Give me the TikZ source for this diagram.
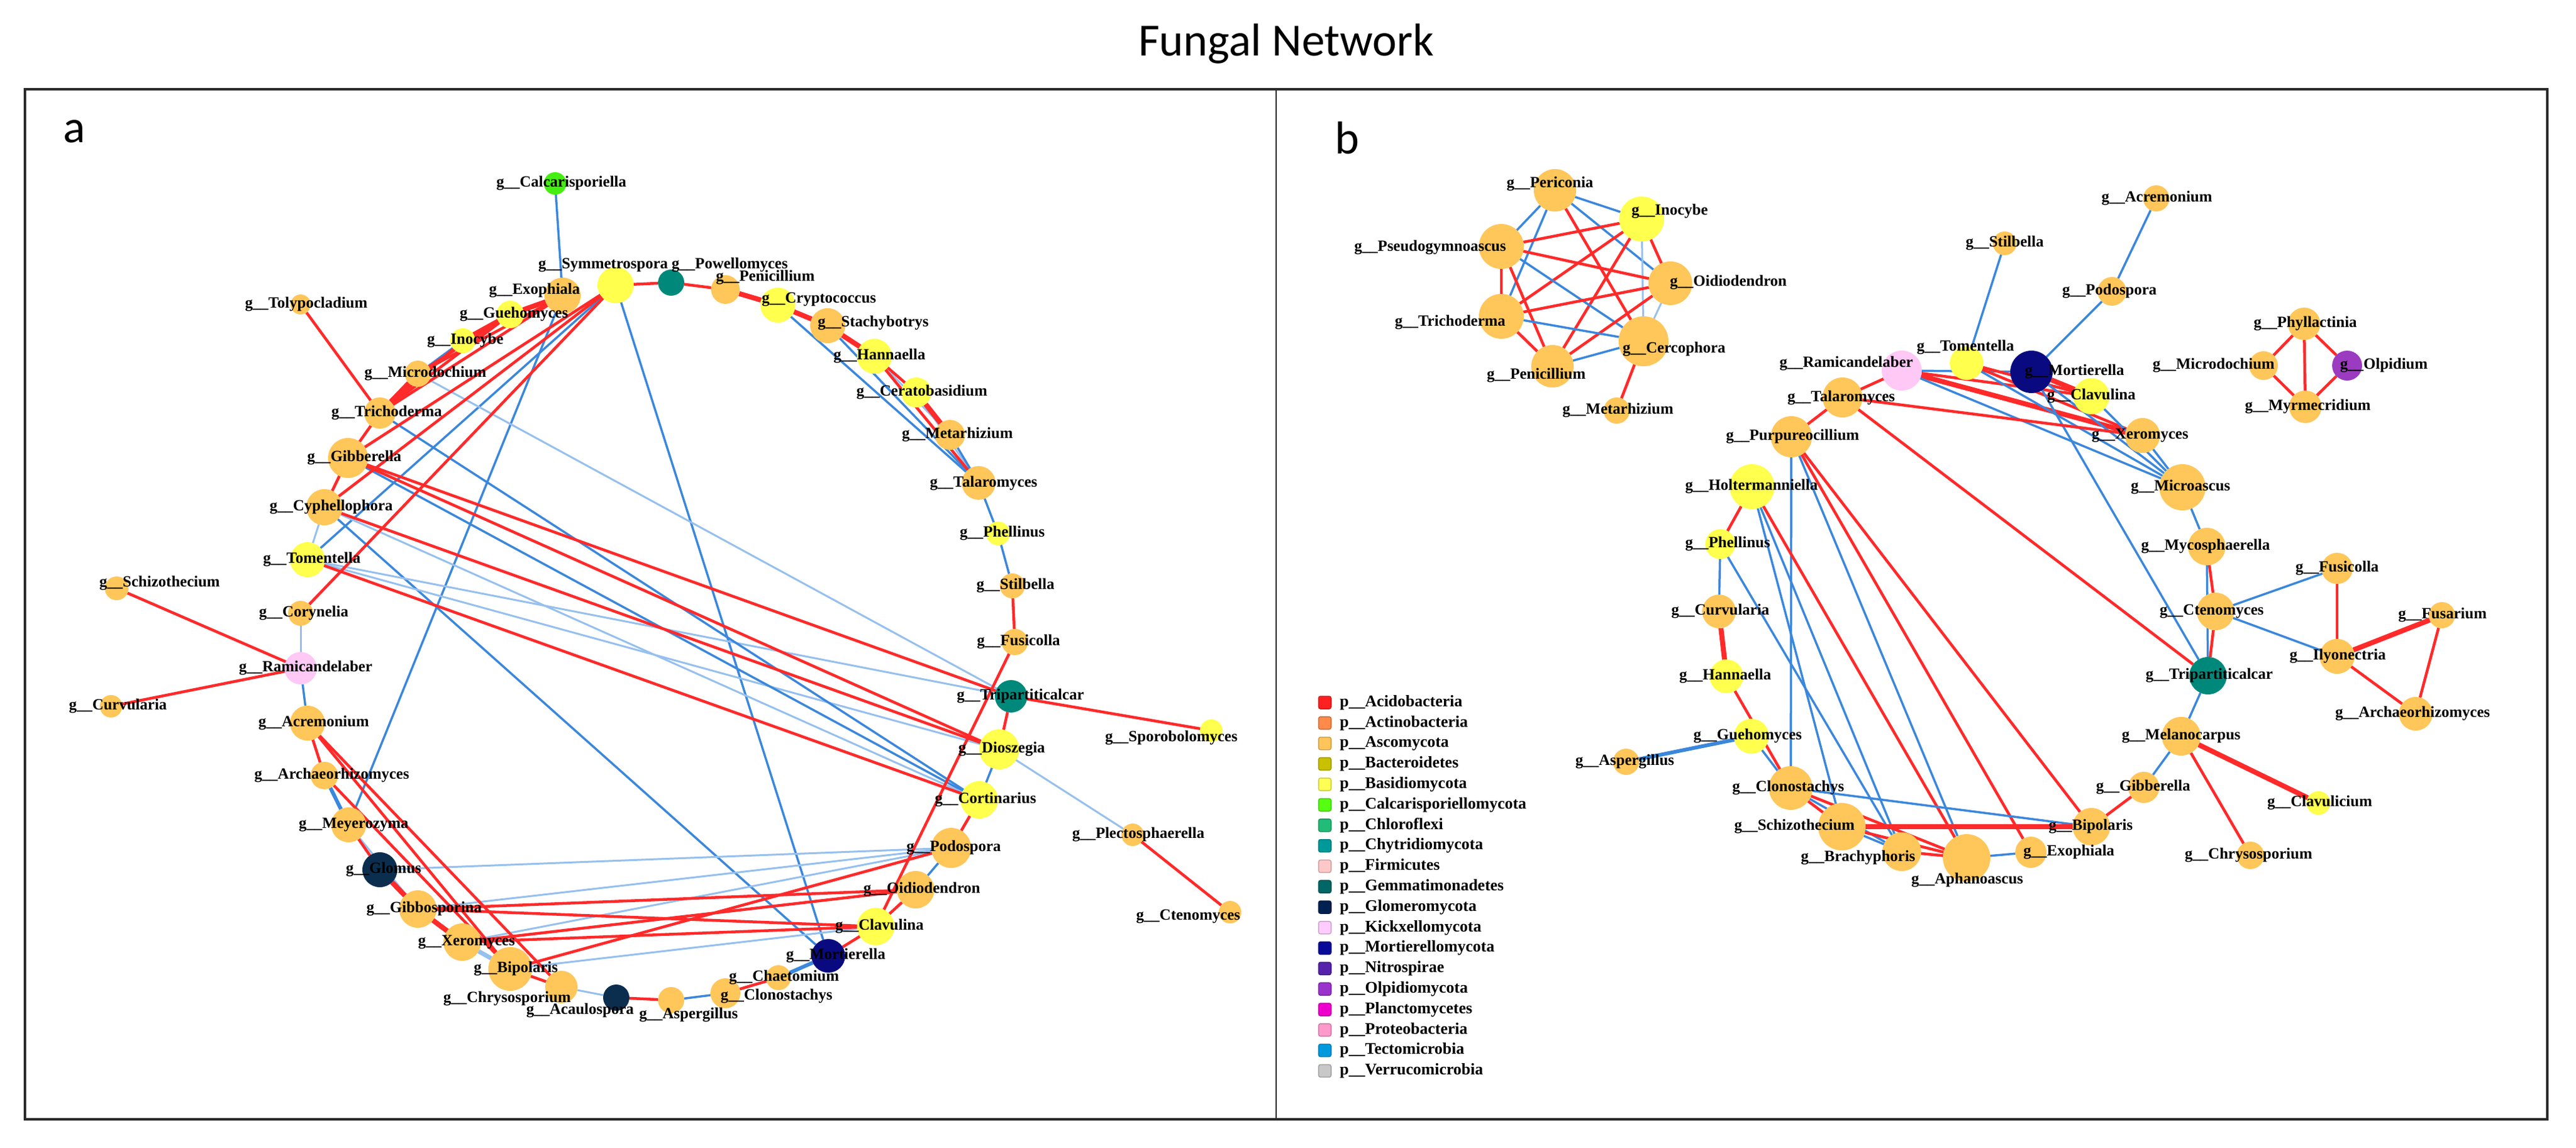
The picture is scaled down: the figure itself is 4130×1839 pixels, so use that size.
\documentclass[tikz,border=0pt]{standalone}
\usepackage{fontspec}
\setmainfont{Liberation Serif}
\newfontfamily\carl{Carlito}
\usetikzlibrary{calc}
\pgfdeclarelayer{bg}\pgfdeclarelayer{edges}\pgfdeclarelayer{labels}
\pgfsetlayers{bg,edges,main,labels}
\definecolor{asc}{HTML}{FFC65A}
\definecolor{bas}{HTML}{FFFF4D}
\definecolor{chy}{HTML}{00897B}
\definecolor{glo}{HTML}{0B2E4F}
\definecolor{mor}{HTML}{0A0A80}
\definecolor{kic}{HTML}{FFC8F5}
\definecolor{cal}{HTML}{44EE11}
\definecolor{olp}{HTML}{9B3BC0}
\definecolor{posc}{HTML}{FF2A2A}
\definecolor{negc}{HTML}{3B87DC}
\definecolor{neglc}{HTML}{96C0EE}
\definecolor{framec}{HTML}{2A2A2A}
\tikzset{
  fnode/.style={circle,draw=none,inner sep=0pt,outer sep=0pt},
  flabel/.style={inner sep=0pt,font=\fontsize{25}{25}\selectfont\bfseries},
  epos/.style={draw=posc,line width=4.5pt},
  eposk/.style={draw=posc,line width=8pt},
  eneg/.style={draw=negc,line width=3.5pt},
  enegk/.style={draw=negc,line width=6pt},
  enegl/.style={draw=neglc,line width=3pt},
  eneglk/.style={draw=neglc,line width=7pt},
  legsq/.style={inner sep=0pt,minimum size=20pt,rounded corners=3pt,line width=1.5pt},
  legtxt/.style={inner sep=0pt,anchor=west,font=\fontsize{26}{26}\selectfont\bfseries},
}
\newcommand\fungnode[8]{%
  \node[fnode,fill=#5,minimum size={2*#4pt}] (#1) at (#2,#3) {};%
  \begin{pgfonlayer}{labels}\node[flabel] (#1-l) at (#7,#8) {g\_\_#6};\end{pgfonlayer}}
\newcommand\lnk[3]{\draw[#1] (#2) -- (#3);}
\begin{document}
\begin{tikzpicture}[x=1pt,y=-1pt]
\useasboundingbox (0,0) rectangle (4130,1839);
\begin{pgfonlayer}{bg}\fill[white] (0,0) rectangle (4130,1839);\end{pgfonlayer}
% title and frame
\node[font=\carl\fontsize{74}{74}\selectfont,inner sep=0pt] (title) at (2062,70) {Fungal Network};
\draw[framec,line width=4pt] (40,143) rectangle (4084,1794);
\draw[framec,line width=2.5pt] (2046,143) -- (2046,1794);
\node[font=\carl\fontsize{74}{74}\selectfont,inner sep=0pt,anchor=base] (pa) at (119,228) {a};
\node[font=\carl\fontsize{74}{74}\selectfont,inner sep=0pt,anchor=base] (pb) at (2160,246) {b};
% ---------------- panel a nodes
\fungnode{calc}{890}{294}{18}{cal}{Calcarisporiella}{900}{294}
\fungnode{symm}{987}{457}{29}{bas}{Symmetrospora}{967}{425}
\fungnode{powel}{1076}{453}{21}{chy}{Powellomyces}{1170}{425}
\fungnode{penA}{1163}{464}{23}{asc}{Penicillium}{1227}{445}
\fungnode{crypt}{1247}{489}{28}{bas}{Cryptococcus}{1313}{480}
\fungnode{stach}{1327}{522}{28}{asc}{Stachybotrys}{1400}{518}
\fungnode{hannA}{1402}{571}{28}{bas}{Hannaella}{1410}{571}
\fungnode{cerat}{1469}{629}{24}{bas}{Ceratobasidium}{1478}{629}
\fungnode{metA}{1523}{697}{24}{asc}{Metarhizium}{1535}{697}
\fungnode{talA}{1569}{774}{27}{asc}{Talaromyces}{1577}{775}
\fungnode{phelA}{1600}{855}{19}{bas}{Phellinus}{1607}{855}
\fungnode{stilA}{1623}{939}{20}{asc}{Stilbella}{1628}{939}
\fungnode{fusA}{1627}{1029}{21}{asc}{Fusicolla}{1633}{1029}
\fungnode{tripA}{1621}{1116}{26}{chy}{Tripartiticalcar}{1636}{1116}
\fungnode{sporo}{1942}{1171}{18}{bas}{Sporobolomyces}{1878}{1183}
\fungnode{dios}{1602}{1201}{32}{bas}{Dioszegia}{1606}{1201}
\fungnode{cort}{1570}{1282}{30}{bas}{Cortinarius}{1580}{1282}
\fungnode{plect}{1816}{1338}{18}{asc}{Plectosphaerella}{1825}{1338}
\fungnode{ctenA}{1972}{1462}{18}{asc}{Ctenomyces}{1905}{1469}
\fungnode{podA}{1525}{1359}{32}{asc}{Podospora}{1529}{1359}
\fungnode{oidA}{1468}{1426}{30}{asc}{Oidiodendron}{1478}{1426}
\fungnode{clavA}{1404}{1485}{30}{bas}{Clavulina}{1410}{1485}
\fungnode{mortA}{1328}{1532}{27}{mor}{Mortierella}{1340}{1532}
\fungnode{chaet}{1248}{1567}{20}{asc}{Chaetomium}{1257}{1567}
\fungnode{clonA}{1163}{1592}{24}{asc}{Clonostachys}{1245}{1597}
\fungnode{aspA}{1076}{1603}{21}{asc}{Aspergillus}{1104}{1627}
\fungnode{acau}{988}{1599}{21}{glo}{Acaulospora}{930}{1620}
\fungnode{chrysA}{900}{1582}{26}{asc}{Chrysosporium}{813}{1601}
\fungnode{bipA}{818}{1553}{35}{asc}{Bipolaris}{827}{1553}
\fungnode{xerA}{741}{1510}{30}{asc}{Xeromyces}{748}{1510}
\fungnode{gibbo}{670}{1457}{30}{asc}{Gibbosporina}{680}{1457}
\fungnode{glom}{609}{1394}{28}{glo}{Glomus}{615}{1394}
\fungnode{meyer}{559}{1322}{28}{asc}{Meyerozyma}{567}{1322}
\fungnode{archA}{520}{1243}{22}{asc}{Archaeorhizomyces}{532}{1243}
\fungnode{acreA}{493}{1159}{28}{asc}{Acremonium}{503}{1159}
\fungnode{ramiA}{482}{1071}{26}{kic}{Ramicandelaber}{490}{1071}
\fungnode{curvA}{178}{1132}{18}{asc}{Curvularia}{189}{1132}
\fungnode{schizA}{187}{943}{19}{asc}{Schizothecium}{256}{935}
\fungnode{coryn}{482}{983}{20}{asc}{Corynelia}{487}{983}
\fungnode{tomA}{493}{897}{28}{bas}{Tomentella}{500}{897}
\fungnode{cyph}{520}{813}{29}{asc}{Cyphellophora}{531}{813}
\fungnode{gibbA}{558}{734}{32}{asc}{Gibberella}{568}{734}
\fungnode{trichA}{609}{662}{25}{asc}{Trichoderma}{620}{662}
\fungnode{tolyp}{482}{488}{16}{asc}{Tolypocladium}{491}{488}
\fungnode{microA}{670}{599}{21}{asc}{Microdochium}{682}{599}
\fungnode{inocA}{742}{546}{20}{bas}{Inocybe}{746}{546}
\fungnode{guehA}{818}{504}{22}{bas}{Guehomyces}{824}{504}
\fungnode{exophA}{902}{474}{29}{asc}{Exophiala}{857}{466}
% ---------------- panel b nodes
\fungnode{peri}{2493}{305}{34}{asc}{Periconia}{2485}{295}
\fungnode{inocB}{2632}{351}{36}{bas}{Inocybe}{2677}{339}
\fungnode{pseudo}{2407}{395}{36}{asc}{Pseudogymnoascus}{2293}{397}
\fungnode{oidB}{2678}{454}{35}{asc}{Oidiodendron}{2771}{453}
\fungnode{trichB}{2407}{507}{36}{asc}{Trichoderma}{2325}{517}
\fungnode{cerco}{2635}{547}{40}{asc}{Cercophora}{2684}{560}
\fungnode{penB}{2489}{587}{34}{asc}{Penicillium}{2463}{602}
\fungnode{metB}{2592}{658}{21}{asc}{Metarhizium}{2594}{658}
\fungnode{acreB}{3457}{318}{21}{asc}{Acremonium}{3458}{318}
\fungnode{stilB}{3214}{390}{19}{asc}{Stilbella}{3214}{390}
\fungnode{podB}{3386}{467}{23}{asc}{Podospora}{3382}{467}
\fungnode{phyll}{3694}{519}{26}{asc}{Phyllactinia}{3696}{519}
\fungnode{microB}{3629}{586}{23}{asc}{Microdochium}{3549}{586}
\fungnode{olpid}{3763}{586}{24}{olp}{Olpidium}{3822}{586}
\fungnode{myrm}{3696}{652}{26}{asc}{Myrmecridium}{3700}{652}
\fungnode{tomB}{3153}{582}{27}{bas}{Tomentella}{3151}{557}
\fungnode{ramiB}{3049}{594}{32}{kic}{Ramicandelaber}{2960}{583}
\fungnode{mortB}{3257}{596}{34}{mor}{Mortierella}{3326}{596}
\fungnode{clavB}{3353}{635}{29}{bas}{Clavulina}{3353}{635}
\fungnode{xerB}{3435}{698}{28}{asc}{Xeromyces}{3431}{698}
\fungnode{microa}{3499}{781}{37}{asc}{Microascus}{3496}{781}
\fungnode{myco}{3538}{876}{30}{asc}{Mycosphaerella}{3536}{876}
\fungnode{talB}{2954}{637}{32}{asc}{Talaromyces}{2952}{638}
\fungnode{purp}{2872}{700}{33}{asc}{Purpureocillium}{2874}{700}
\fungnode{holt}{2809}{780}{36}{bas}{Holtermanniella}{2808}{780}
\fungnode{phelB}{2758}{872}{24}{bas}{Phellinus}{2770}{872}
\fungnode{curvB}{2756}{980}{27}{asc}{Curvularia}{2758}{980}
\fungnode{hannB}{2768}{1084}{27}{bas}{Hannaella}{2766}{1084}
\fungnode{guehB}{2808}{1180}{28}{bas}{Guehomyces}{2802}{1180}
\fungnode{aspB}{2607}{1221}{21}{asc}{Aspergillus}{2605}{1221}
\fungnode{clonB}{2871}{1263}{35}{asc}{Clonostachys}{2867}{1263}
\fungnode{schizB}{2953}{1325}{38}{asc}{Schizothecium}{2877}{1325}
\fungnode{brach}{3049}{1365}{31}{asc}{Brachyphoris}{2979}{1375}
\fungnode{aphan}{3153}{1375}{38}{asc}{Aphanoascus}{3154}{1411}
\fungnode{exophB}{3256}{1366}{25}{asc}{Exophiala}{3317}{1366}
\fungnode{bipB}{3353}{1325}{30}{asc}{Bipolaris}{3352}{1325}
\fungnode{gibbB}{3437}{1262}{25}{asc}{Gibberella}{3436}{1262}
\fungnode{melano}{3497}{1180}{31}{asc}{Melanocarpus}{3497}{1180}
\fungnode{clavu}{3717}{1287}{19}{bas}{Clavulicium}{3719}{1287}
\fungnode{chrysB}{3608}{1371}{22}{asc}{Chrysosporium}{3605}{1371}
\fungnode{tripB}{3540}{1083}{30}{chy}{Tripartiticalcar}{3542}{1083}
\fungnode{ctenB}{3552}{980}{30}{asc}{Ctenomyces}{3546}{980}
\fungnode{fusB}{3747}{911}{25}{asc}{Fusicolla}{3747}{911}
\fungnode{fusar}{3915}{986}{21}{asc}{Fusarium}{3916}{986}
\fungnode{ilyo}{3747}{1052}{28}{asc}{Ilyonectria}{3748}{1052}
\fungnode{archB}{3873}{1144}{27}{asc}{Archaeorhizomyces}{3868}{1144}
% ---------------- edges
\begin{pgfonlayer}{edges}
% panel a, negative
\lnk{eneg}{calc}{exophA}
\lnk{eneg}{symm}{tomA}
\lnk{eneg}{symm}{mortA}
\lnk{eneg}{exophA}{meyer}
\lnk{eneg}{cyph}{mortA}
\lnk{eneg}{microA}{inocA}
\lnk{enegl}{microA}{tripA}
\lnk{enegl}{tomA}{dios}
\lnk{enegl}{tomA}{tripA}
\lnk{enegl}{cyph}{tomA}
\lnk{eneg}{gibbA}{cort}
\lnk{enegl}{cyph}{cort}
\lnk{eneg}{trichA}{cort}
\lnk{eneg}{crypt}{talA}
\lnk{eneg}{stach}{talA}
\lnk{enegl}{hannA}{metA}
\lnk{enegl}{cerat}{talA}
\lnk{eneg}{metA}{talA}
\lnk{eneg}{talA}{phelA}
\lnk{eneg}{phelA}{stilA}
\lnk{eneg}{dios}{cort}
\lnk{enegl}{dios}{plect}
\lnk{eneg}{podA}{oidA}
\lnk{eneg}{cort}{podA}
\lnk{enegl}{coryn}{ramiA}
\lnk{eneg}{ramiA}{acreA}
\lnk{enegk}{archA}{meyer}
\lnk{enegl}{meyer}{gibbo}
\lnk{enegl}{glom}{podA}
\lnk{enegl}{gibbo}{podA}
\lnk{enegl}{xerA}{podA}
\lnk{eneglk}{xerA}{bipA}
\lnk{enegl}{bipA}{clavA}
\lnk{enegl}{chrysA}{acau}
\lnk{eneg}{aspA}{clonA}
\lnk{enegk}{chaet}{mortA}
\lnk{enegl}{gibbo}{xerA}
% panel a, positive
\lnk{epos}{tolyp}{trichA}
\lnk{eposk}{trichA}{microA}
\lnk{epos}{trichA}{inocA}
\lnk{epos}{trichA}{guehA}
\lnk{epos}{trichA}{exophA}
\lnk{epos}{microA}{guehA}
\lnk{epos}{microA}{exophA}
\lnk{eposk}{inocA}{guehA}
\lnk{eposk}{guehA}{exophA}
\lnk{epos}{gibbA}{trichA}
\lnk{epos}{gibbA}{symm}
\lnk{epos}{cyph}{symm}
\lnk{epos}{coryn}{symm}
\lnk{epos}{gibbA}{cyph}
\lnk{epos}{symm}{powel}
\lnk{epos}{powel}{penA}
\lnk{eposk}{penA}{crypt}
\lnk{eposk}{crypt}{stach}
\lnk{eposk}{stach}{hannA}
\lnk{epos}{hannA}{cerat}
\lnk{epos}{hannA}{talA}
\lnk{eposk}{cerat}{metA}
\lnk{epos}{stilA}{fusA}
\lnk{epos}{fusA}{clavA}
\lnk{epos}{gibbA}{tripA}
\lnk{epos}{gibbA}{dios}
\lnk{epos}{cyph}{dios}
\lnk{epos}{tomA}{cort}
\lnk{epos}{tripA}{sporo}
\lnk{epos}{tripA}{dios}
\lnk{epos}{plect}{ctenA}
\lnk{epos}{schizA}{ramiA}
\lnk{epos}{curvA}{ramiA}
\lnk{epos}{acreA}{archA}
\lnk{epos}{acreA}{bipA}
\lnk{epos}{acreA}{chrysA}
\lnk{epos}{archA}{bipA}
\lnk{epos}{meyer}{glom}
\lnk{eposk}{glom}{gibbo}
\lnk{eposk}{gibbo}{xerA}
\lnk{epos}{bipA}{chrysA}
\lnk{epos}{acau}{aspA}
\lnk{epos}{clonA}{chaet}
\lnk{epos}{mortA}{clavA}
\lnk{epos}{clavA}{oidA}
\lnk{epos}{podA}{cort}
\lnk{epos}{gibbo}{oidA}
\lnk{epos}{gibbo}{clavA}
\lnk{epos}{xerA}{oidA}
\lnk{epos}{xerA}{clavA}
\lnk{epos}{bipA}{podA}
% panel b, cluster
\lnk{eneg}{peri}{inocB}
\lnk{eneg}{peri}{pseudo}
\lnk{eneg}{peri}{trichB}
\lnk{eneg}{peri}{oidB}
\lnk{epos}{peri}{cerco}
\lnk{epos}{inocB}{pseudo}
\lnk{epos}{inocB}{trichB}
\lnk{epos}{inocB}{penB}
\lnk{epos}{inocB}{oidB}
\lnk{enegl}{inocB}{cerco}
\lnk{epos}{pseudo}{oidB}
\lnk{epos}{pseudo}{trichB}
\lnk{epos}{pseudo}{penB}
\lnk{eneg}{pseudo}{cerco}
\lnk{epos}{oidB}{trichB}
\lnk{epos}{oidB}{penB}
\lnk{enegl}{oidB}{cerco}
\lnk{eneg}{trichB}{cerco}
\lnk{epos}{trichB}{penB}
\lnk{eneg}{penB}{cerco}
\lnk{epos}{cerco}{metB}
% phyllactinia group
\lnk{epos}{phyll}{microB}
\lnk{epos}{phyll}{olpid}
\lnk{epos}{phyll}{myrm}
\lnk{epos}{microB}{myrm}
\lnk{epos}{olpid}{myrm}
% central
\lnk{eneg}{acreB}{podB}
\lnk{eneg}{podB}{mortB}
\lnk{eneg}{stilB}{tomB}
\lnk{epos}{ramiB}{talB}
\lnk{epos}{talB}{purp}
\lnk{eneg}{ramiB}{mortB}
\lnk{eposk}{ramiB}{xerB}
\lnk{epos}{ramiB}{clavB}
\lnk{eneg}{ramiB}{microa}
\lnk{epos}{tomB}{clavB}
\lnk{epos}{tomB}{xerB}
\lnk{eneg}{tomB}{microa}
\lnk{eposk}{mortB}{clavB}
\lnk{eneg}{mortB}{tripB}
\lnk{eneg}{mortB}{microa}
\lnk{eneg}{clavB}{microa}
\lnk{eneg}{xerB}{microa}
\lnk{epos}{talB}{xerB}
\lnk{epos}{talB}{tripB}
\lnk{eneg}{microa}{myco}
\lnk{epos}{myco}{ctenB}
\lnk{eneg}{myco}{tripB}
\lnk{epos}{ctenB}{tripB}
\lnk{eneg}{ctenB}{fusB}
\lnk{eneg}{ctenB}{ilyo}
\lnk{epos}{fusB}{ilyo}
\lnk{eposk}{ilyo}{fusar}
\lnk{epos}{fusar}{archB}
\lnk{epos}{ilyo}{archB}
\lnk{eneg}{tripB}{melano}
\lnk{eneg}{melano}{gibbB}
\lnk{eposk}{melano}{clavu}
\lnk{epos}{melano}{chrysB}
\lnk{epos}{gibbB}{bipB}
\lnk{eneg}{purp}{clonB}
\lnk{eneg}{purp}{aphan}
\lnk{epos}{purp}{exophB}
\lnk{epos}{purp}{bipB}
\lnk{epos}{holt}{phelB}
\lnk{eneg}{phelB}{curvB}
\lnk{eposk}{curvB}{hannB}
\lnk{epos}{hannB}{clonB}
\lnk{eneg}{guehB}{clonB}
\lnk{enegk}{guehB}{aspB}
\lnk{eneg}{holt}{brach}
\lnk{eneg}{holt}{schizB}
\lnk{epos}{holt}{aphan}
\lnk{eneg}{phelB}{brach}
\lnk{epos}{clonB}{schizB}
\lnk{epos}{clonB}{aphan}
\lnk{eneg}{clonB}{bipB}
\lnk{eneg}{clonB}{brach}
\lnk{eposk}{schizB}{bipB}
\lnk{eneg}{schizB}{brach}
\lnk{epos}{schizB}{aphan}
\lnk{epos}{brach}{aphan}
\lnk{eneg}{aphan}{exophB}
\end{pgfonlayer}
% ---------------- legend
\foreach \c/\t [count=\i] in {FF2020/Acidobacteria,FF8A4A/Actinobacteria,FFC55A/Ascomycota,C8C000/Bacteroidetes,FFFF55/Basidiomycota,55FF11/Calcarisporiellomycota,22BB77/Chloroflexi,009999/Chytridiomycota,FFC8C8/Firmicutes,006666/Gemmatimonadetes,002050/Glomeromycota,FFCCFF/Kickxellomycota,0A0A99/Mortierellomycota,5522AA/Nitrospirae,9933CC/Olpidiomycota,EE00CC/Planctomycetes,FF99CC/Proteobacteria,0099DD/Tectomicrobia,C8C8C8/Verrucomicrobia}{
  \definecolor{lc}{HTML}{\c}
  \node[legsq,fill=lc,draw=lc!80!black] (leg\i) at (2124,{1126+(\i-1)*32.8}) {};
  \node[legtxt] (legt\i) at (2148,{1126+(\i-1)*32.8}) {p\_\_\t};
}
\end{tikzpicture}
\end{document}
